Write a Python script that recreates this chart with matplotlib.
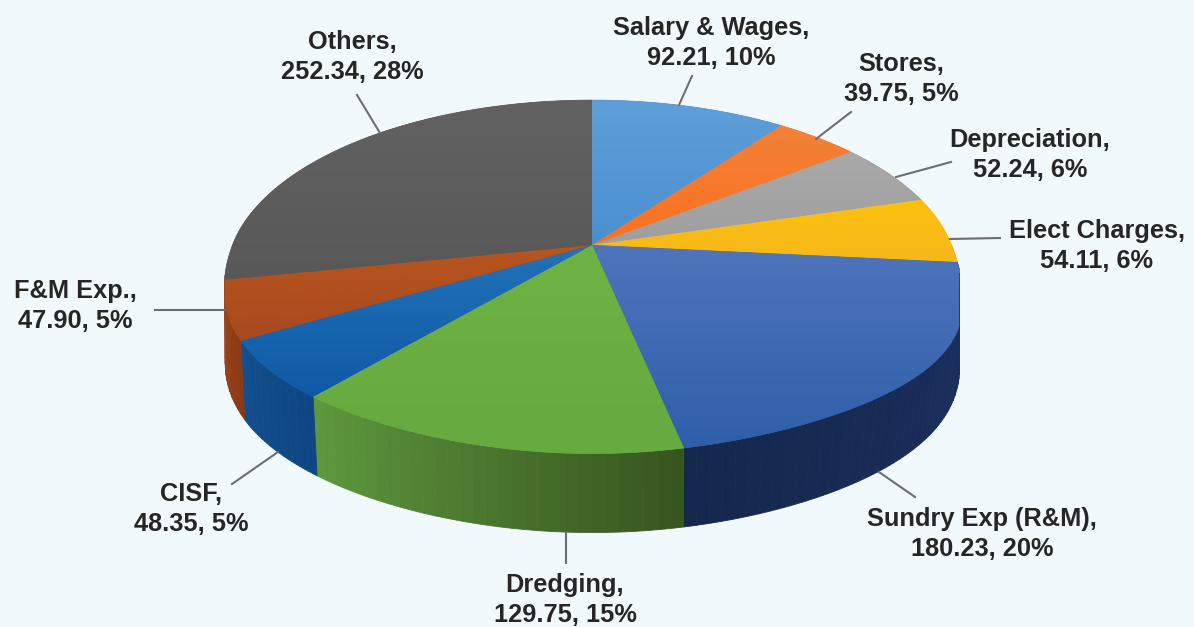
import numpy as np
import matplotlib
matplotlib.use('Agg')
from matplotlib import pyplot as plt
from matplotlib.colors import LinearSegmentedColormap, to_rgb
from matplotlib.patches import Polygon

#The values of the chart, clockwise from 12 o'clock
categories = ['Salary & Wages', 'Stores', 'Depreciation', 'Elect Charges',
              'Sundry Exp (R&M)', 'Dredging', 'CISF', 'F&M Exp.', 'Others']
values = [92.21, 39.75, 52.24, 54.11, 180.23, 129.75, 48.35, 47.90, 252.34]
value_labels = ['92.21', '39.75', '52.24', '54.11', '180.23', '129.75', '48.35', '47.90', '252.34']
percents = [10, 5, 6, 6, 20, 15, 5, 5, 28]

#Colors: upper and lower end of the gradient on the top face, then the wall (clockwise)
top_upper = ['#5f9fd9', '#f28238', '#a9a9a9', '#fdc010', '#4f74bc', '#6fb344', '#2272b8', '#b8551f', '#626262']
top_lower = ['#4b8fd0', '#fb7020', '#9f9f9f', '#f5b81a', '#2f5fa9', '#66aa40', '#0f5aa6', '#a84a1f', '#585858']
wall_start = ['#3a6a9a', '#a85a20', '#707070', '#b08010', '#1c3060', '#37551f', '#0f4684', '#8a3a16', '#a0441a']
wall_end = ['#3a6a9a', '#a85a20', '#707070', '#b08010', '#14284e', '#5f9a3e', '#134f8e', '#a0441a', '#a0441a']

#Label positions and leader lines in pixels of the picture
label_pos = [(711, 43), (901, 79), (1030, 155), (1097, 246), (982, 534),
             (565, 600), (191, 509), (75, 306), (352, 57)]
leaders = [((679, 105), (692, 76)), ((816, 139), (851, 112)), ((896, 177), (951, 162)),
           ((950, 239), (1000, 238)), ((879, 472), (915, 497)), ((566, 532), (566, 563)),
           ((278, 452), (232, 484)), ((225, 310), (155, 310)), ((380, 133), (357, 95))]

#Perspective of the disc
center_x, center_y = 592, 245
radius_x, radius_y = 359.5, 171
tilt = 0.18
depth = 79
left_edge, right_edge = 225, 959


def project(theta, right_corner=0.3, left_corner=0.16):
    u, v = np.sin(theta), np.cos(theta)
    w = 1 + tilt * v
    corner = np.where(u > 0, right_corner, left_corner)
    squarer = np.where(v < 0, 1 + corner * (u * v) ** 2, 1.0)
    x = center_x + radius_x * u / w * squarer
    return np.clip(x, left_edge, right_edge), center_y - radius_y * v / w


fig = plt.figure(figsize=(11.94, 6.27), dpi=100, facecolor='#f1f9fd')
ax = fig.add_axes([0, 0, 1, 1])
ax.set_facecolor('#f1f9fd')
ax.axis('off')

edges = np.concatenate([[0], np.cumsum(values)]) / sum(values) * 2 * np.pi

#Walls first: only the part from the right tip round to the left tip shows
for i in range(len(values)):
    start = max(edges[i], np.pi / 2)
    stop = min(edges[i + 1], 1.445 * np.pi)
    if stop <= start:
        continue
    steps = max(int((stop - start) / 0.03), 1)
    cuts = np.linspace(start, stop, steps + 1)
    c0, c1 = np.array(to_rgb(wall_start[i])), np.array(to_rgb(wall_end[i]))
    for j in range(steps):
        t = np.linspace(cuts[j], cuts[j + 1], 5)
        x, y = project(t)
        xb, yb = project(t, 0.15, 0.1)
        color = c0 + (c1 - c0) * j / steps
        ax.fill(np.r_[x, xb[::-1]], np.r_[y, yb[::-1] + depth], color=color, lw=0.6, zorder=2)

#Top face with a vertical gradient inside each wedge
for i in range(len(values)):
    t = np.linspace(edges[i], edges[i + 1], 80)
    x, y = project(t)
    xs = np.r_[center_x, x]
    ys = np.r_[center_y, y]
    ax.fill(xs, ys, color=top_lower[i], lw=0.5, zorder=3)
    cmap = LinearSegmentedColormap.from_list('face', [top_upper[i], top_lower[i]])
    image = ax.imshow(np.linspace(0, 1, 64).reshape(-1, 1), cmap=cmap, aspect='auto',
                      extent=[xs.min(), xs.max(), ys.max(), ys.min()], zorder=4)
    image.set_clip_path(Polygon(np.c_[xs, ys], closed=True, transform=ax.transData))

#Labels and leaders
for i in range(len(values)):
    (x0, y0), (x1, y1) = leaders[i]
    ax.plot([x0, x1], [y0, y1], color='#6e6e6e', lw=1.5, zorder=5)
    text = '%s,\n%s, %d%%' % (categories[i], value_labels[i], percents[i])
    ax.text(label_pos[i][0], label_pos[i][1], text, ha='center', va='center',
            family='Liberation Sans', weight='bold', fontsize=18.3, color='#262626',
            linespacing=1.36, zorder=6)

ax.set_xlim(0, 1194)
ax.set_ylim(627, 0)
fig.savefig('out.png', dpi=100, facecolor=fig.get_facecolor())
